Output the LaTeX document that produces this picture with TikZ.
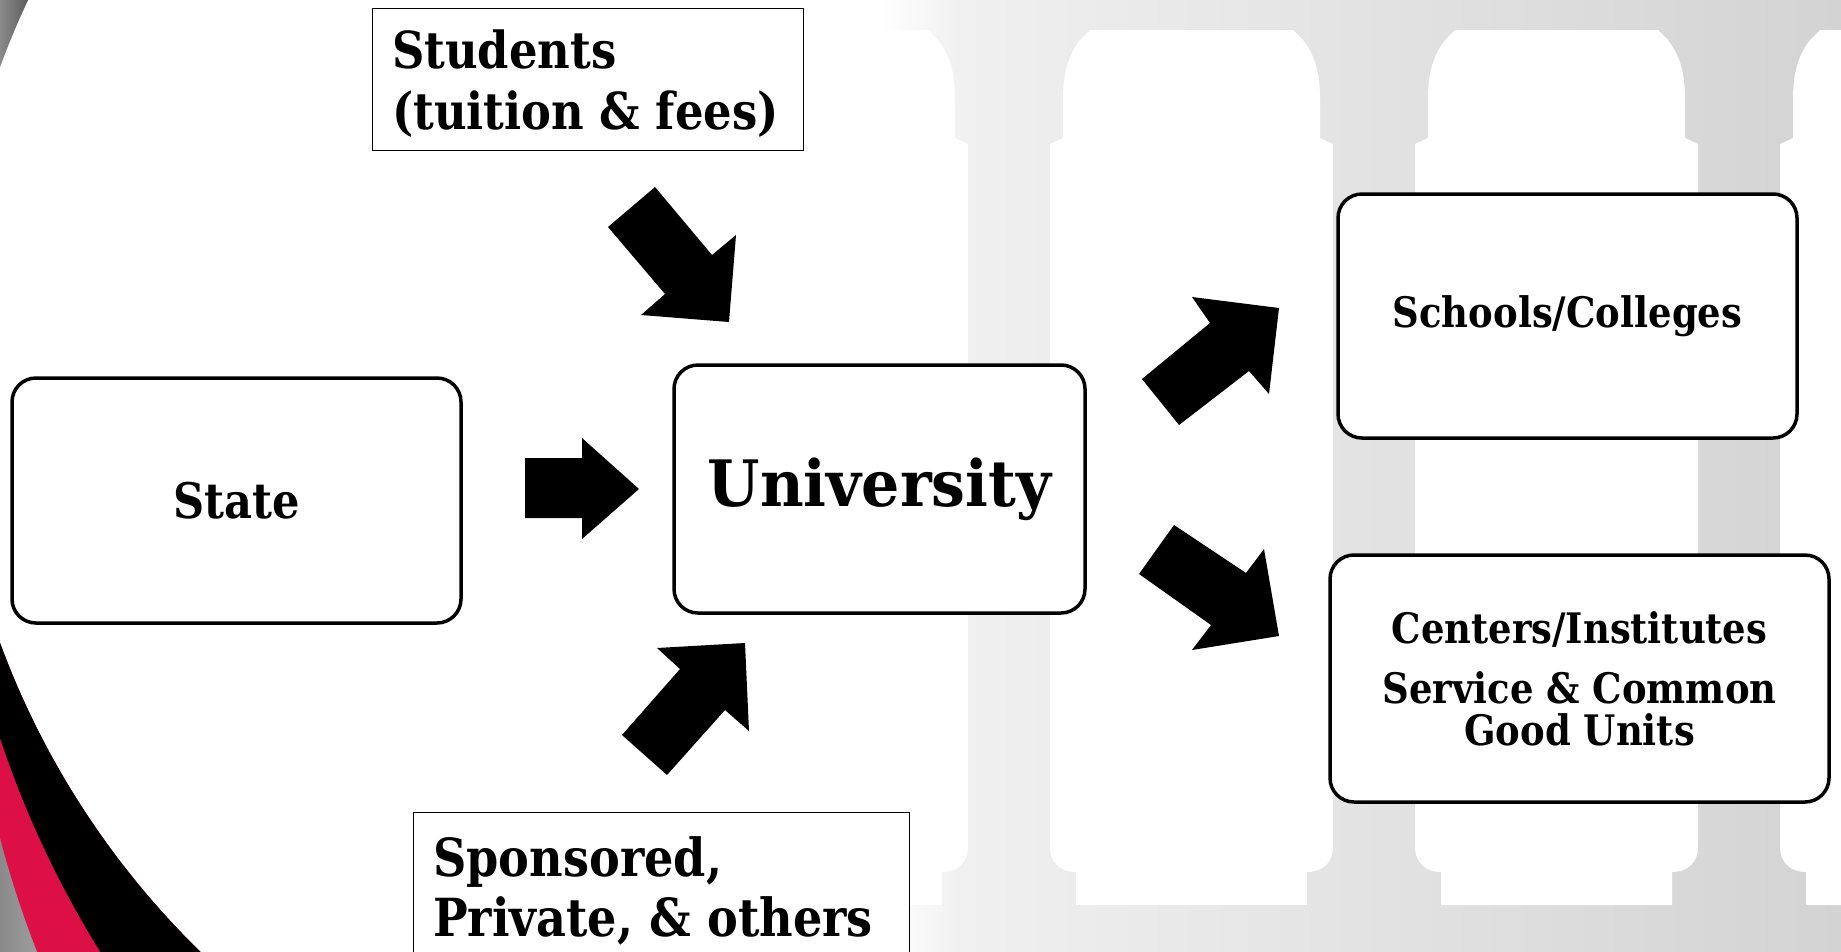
\documentclass[tikz,border=0pt]{standalone}
\usepackage{fontspec}
\setmainfont{DejaVu Serif}
\newfontfamily\narrowserif{DejaVu Serif}[FakeStretch=0.88]
\newfontfamily\unifont{DejaVu Serif}[FakeStretch=0.94]
\definecolor{bandred}{HTML}{DC1046}
\definecolor{gA}{HTML}{F0F0F0}
\definecolor{gB}{HTML}{D3D3D3}
\definecolor{cornergray}{HTML}{8A8A8A}
\definecolor{cornerlight}{HTML}{A8A8A8}
\definecolor{cornerdark}{HTML}{4A4A4A}
\tikzset{
  roundbox/.style={draw=black, line width=3.5pt, fill=white, rounded corners=24pt, align=center},
  plainbox/.style={draw=black, line width=1.4pt, fill=white},
  boxtext/.style={inner sep=0pt, align=left, anchor=north west},
  blockarrow/.style={fill=black},
  gapwhite/.style={fill=white},
}
\newcommand{\bigfont}[2]{\narrowserif\bfseries\fontsize{#1}{#2}\selectfont}
\begin{document}
\begin{tikzpicture}[x=1pt,y=-1pt]
\useasboundingbox (0,0) rectangle (1841,951);
\clip (0,0) rectangle (1841,951);
\fill[white] (0,0) rectangle (1841,951);
% grey colonnade background
\shade[left color=white, right color=gA] (880,0) rectangle (962,951);
\shade[left color=gA, right color=gB] (960,0) rectangle (1841,951);
\foreach \L in {685,1050,1415,1780}{
  \pgfmathsetmacro{\R}{\L+283}
  \fill[gapwhite] (\L+40,30) -- (\R-40,30) -- (\R-30,40)
    .. controls (\R-16,58) and (\R-13,78) .. (\R-13,100) -- (\R-13,138) -- (\R,144)
    -- (\R,847) .. controls (\R,862) and (\R-10,872) .. (\R-26,872) -- (\R-26,905)
    -- (\L+26,905) -- (\L+26,872) .. controls (\L+10,872) and (\L,862) .. (\L,847)
    -- (\L,144) -- (\L+13,138) -- (\L+13,100) .. controls (\L+13,78) and (\L+16,58) .. (\L+30,40) -- cycle;
}
% left arcs, outside the big white circle
\begin{scope}[even odd rule]
  \clip (-10,-10) rectangle (1851,961) (783,355) circle[radius=834];
  \begin{scope}
    \clip (0,0) rectangle (200,300);
    \shade[left color=cornergray, right color=cornerdark] (0,0) rectangle (40,300);
  \end{scope}
  \begin{scope}
    \clip (0,400) rectangle (400,951);
    \shade[left color=cornergray, right color=cornerlight] (0,400) rectangle (60,951);
    \fill[bandred] (966,586) circle[radius=998];
    \fill[black] (966,416) circle[radius=1018];
  \end{scope}
\end{scope}
% boxes
\node[plainbox, anchor=north west, minimum width=431pt, minimum height=142pt] (students) at (372,8) {};
\node[boxtext, font=\bigfont{51}{61}] (studentstext) at (392,30) {Students\\(tuition \& fees)};
\node[plainbox, anchor=north west, minimum width=496pt, minimum height=170pt] (sponsored) at (413,812) {};
\node[boxtext, font=\bigfont{52.5}{60}] (sponsoredtext) at (433,836) {Sponsored,\\Private, \& others};
\node[roundbox, minimum width=449pt, minimum height=245pt, font=\bigfont{49}{56}] (state) at (236.5,500.5) {State};
\node[roundbox, minimum width=411pt, minimum height=248pt, font={\unifont\bfseries\fontsize{64}{72}\selectfont}] (univ) at (879.5,489) {University};
\node[roundbox, minimum width=459pt, minimum height=244pt, font=\bigfont{42}{48}] (schools) at (1567.5,316) {Schools/Colleges};
\node[roundbox, minimum width=499pt, minimum height=247pt, font=\bigfont{42}{42}] (centers) at (1579.5,678.5) {Centers/Institutes\\[18pt]Service \& Common\\Good Units};
% block arrows
\fill[blockarrow] (655,187) -- (608,227) -- (665,294) -- (641,315) -- (729,322) -- (736,235) -- (712,255) -- cycle;
\fill[blockarrow] (525,458) -- (582,458) -- (582,438) -- (639,489) -- (582,539) -- (582,518) -- (525,518) -- cycle;
\fill[blockarrow] (622,735) -- (680,669) -- (657,648) -- (745,643) -- (749,731) -- (725,710) -- (667,775) -- cycle;
\fill[blockarrow] (1142,379) -- (1210,323) -- (1192,297) -- (1279,308) -- (1269,394) -- (1249,371) -- (1179,425) -- cycle;
\fill[blockarrow] (1174,525) -- (1246,573) -- (1264,549) -- (1279,636) -- (1192,650) -- (1211,625) -- (1139,574) -- cycle;
\end{tikzpicture}
\end{document}
